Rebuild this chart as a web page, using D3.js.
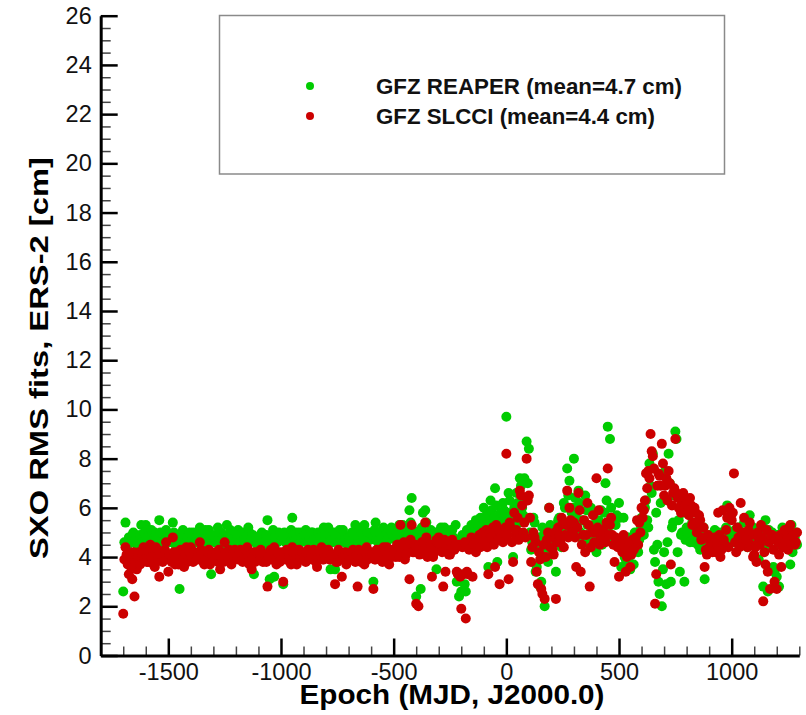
<!DOCTYPE html>
<html>
<head>
<meta charset="utf-8">
<script src="https://cdn.jsdelivr.net/npm/d3@7"></script>
<style>
  html, body { margin: 0; padding: 0; background: #fff; }
  svg { display: block; }
  text { font-family: "Liberation Sans", Arial, Helvetica, sans-serif; }
</style>
</head>
<body>
<svg id="chart" width="806" height="715"></svg>
<script>
// ---------------- DATA ----------------
// epochs [MJD - J2000.0]; first block, then an interleaved second block
const epochs = [
  -1700,-1690,-1680,-1670,-1660,-1650,-1640,-1630,-1620,-1610,
  -1600,-1590,-1580,-1570,-1560,-1550,-1540,-1530,-1520,-1510,
  -1500,-1490,-1480,-1470,-1460,-1450,-1440,-1430,-1420,-1410,
  -1400,-1390,-1380,-1370,-1360,-1350,-1340,-1330,-1320,-1310,
  -1300,-1290,-1280,-1270,-1260,-1250,-1240,-1230,-1220,-1210,
  -1200,-1190,-1180,-1170,-1160,-1150,-1140,-1130,-1120,-1110,
  -1100,-1090,-1080,-1070,-1060,-1050,-1040,-1030,-1020,-1010,
  -1000,-990,-980,-970,-960,-950,-940,-930,-920,-910,
  -900,-890,-880,-870,-860,-850,-840,-830,-820,-810,
  -800,-790,-780,-770,-760,-750,-740,-730,-720,-710,
  -700,-690,-680,-670,-660,-650,-640,-630,-620,-610,
  -600,-590,-580,-570,-560,-550,-540,-530,-520,-510,
  -500,-490,-480,-470,-460,-450,-440,-430,-420,-410,
  -400,-390,-380,-370,-360,-350,-340,-330,-320,-310,
  -300,-290,-280,-270,-260,-250,-240,-230,-220,-210,
  -200,-190,-180,-170,-160,-150,-140,-130,-120,-110,
  -100,-90,-80,-70,-60,-50,-40,-30,-20,-10,
  0,10,20,30,40,50,60,70,80,90,
  100,110,120,130,140,150,160,170,180,190,
  200,210,220,230,240,250,260,270,280,290,
  300,310,320,330,340,350,360,370,380,390,
  400,410,420,430,440,450,460,470,480,490,
  500,510,520,530,540,550,560,570,580,590,
  600,610,620,630,640,650,660,670,680,690,
  700,710,720,730,740,750,760,770,780,790,
  800,810,820,830,840,850,860,870,880,890,
  900,910,920,930,940,950,960,970,980,990,
  1000,1010,1020,1030,1040,1050,1060,1070,1080,1090,
  1100,1110,1120,1130,1140,1150,1160,1170,1180,1190,
  1200,1210,1220,1230,1240,1250,1260,1270,1280,1290,
  -1695,-1685,-1675,-1665,-1655,-1645,-1635,-1625,-1615,-1605,
  -1595,-1585,-1575,-1565,-1555,-1545,-1535,-1525,-1515,-1505,
  -1495,-1485,-1475,-1465,-1455,-1445,-1435,-1425,-1415,-1405,
  -1395,-1385,-1375,-1365,-1355,-1345,-1335,-1325,-1315,-1305,
  -1295,-1285,-1275,-1265,-1255,-1245,-1235,-1225,-1215,-1205,
  -1195,-1185,-1175,-1165,-1155,-1145,-1135,-1125,-1115,-1105,
  -1095,-1085,-1075,-1065,-1055,-1045,-1035,-1025,-1015,-1005,
  -995,-985,-975,-965,-955,-945,-935,-925,-915,-905,
  -895,-885,-875,-865,-855,-845,-835,-825,-815,-805,
  -795,-785,-775,-765,-755,-745,-735,-725,-715,-705,
  -695,-685,-675,-665,-655,-645,-635,-625,-615,-605,
  -595,-585,-575,-565,-555,-545,-535,-525,-515,-505,
  -495,-485,-475,-465,-455,-445,-435,-425,-415,-405,
  -395,-385,-375,-365,-355,-345,-335,-325,-315,-305,
  -295,-285,-275,-265,-255,-245,-235,-225,-215,-205,
  -195,-185,-175,-165,-155,-145,-135,-125,-115,-105,
  -95,-85,-75,-65,-55,-45,-35,-25,-15,-5,
  5,15,25,35,45,55,65,75,85,95,
  105,115,125,135,145,155,165,175,185,195,
  205,215,225,235,245,255,265,275,285,295,
  305,315,325,335,345,355,365,375,385,395,
  405,415,425,435,445,455,465,475,485,495,
  505,515,525,535,545,555,565,575,585,595,
  605,615,625,635,645,655,665,675,685,695,
  705,715,725,735,745,755,765,775,785,795,
  805,815,825,835,845,855,865,875,885,895,
  905,915,925,935,945,955,965,975,985,995,
  1005,1015,1025,1035,1045,1055,1065,1075,1085,1095,
  1105,1115,1125,1135,1145,1155,1165,1175,1185,1195,
  1205,1215,1225,1235,1245,1255,1265,1275,1285
];

// GFZ REAPER RMS [cm]
const reaper = [
  2.6,5.4,4.5,4.7,4.9,4.6,4.8,4.5,5.3,4.7,
  5.3,4.6,4.9,4.4,5.0,4.7,5.5,4.8,4.5,5.1,
  4.6,4.9,5.4,4.7,4.5,2.7,4.8,5.0,4.6,4.9,
  4.7,5.0,4.6,4.8,5.2,4.5,4.9,4.7,5.1,3.3,
  4.8,4.6,5.2,4.9,4.5,4.7,5.3,4.6,5.0,4.8,
  4.7,5.1,4.8,4.5,4.9,4.6,5.0,4.7,3.3,4.8,
  4.6,4.9,4.7,4.5,5.5,3.1,4.8,3.2,4.6,5.0,
  4.8,2.9,4.6,4.9,4.7,5.6,4.5,5.0,4.8,4.6,
  4.7,5.1,4.9,4.6,5.0,4.8,4.5,4.9,4.7,5.2,
  4.8,5.2,3.5,4.6,3.5,4.9,5.1,4.7,4.6,4.8,
  4.7,4.9,4.6,5.3,4.8,5.0,4.5,5.3,4.7,4.9,
  4.8,3.0,5.4,4.6,4.9,5.1,4.7,5.0,4.8,5.2,
  5.0,4.7,5.2,4.9,5.3,4.8,5.1,5.9,6.4,4.7,
  2.4,4.9,2.7,5.8,5.9,4.7,5.0,4.6,4.8,3.5,
  4.9,5.2,4.6,5.0,4.8,4.5,5.1,4.7,3.0,2.4,
  2.6,4.7,2.6,4.9,5.1,4.6,5.3,4.8,5.4,5.0,
  6.0,5.5,3.6,6.3,5.2,6.8,3.8,5.7,5.4,5.9,
  9.7,6.6,5.5,4.0,5.8,6.2,7.2,6.0,7.2,8.7,
  8.4,4.3,5.6,3.4,4.8,2.8,5.2,2.0,4.5,6.0,
  5.1,4.7,3.4,5.5,4.9,5.3,6.0,7.6,7.1,5.8,
  8.0,5.6,6.7,5.0,4.7,6.5,5.3,4.9,5.8,5.2,
  4.2,5.5,5.9,5.0,7.0,9.3,8.8,5.4,4.8,5.7,
  6.2,3.6,5.6,3.9,4.8,3.5,4.6,5.0,4.4,4.7,
  5.6,4.9,6.3,5.2,6.9,8.2,3.8,4.5,2.5,2.0,
  4.2,2.9,8.2,3.0,5.4,9.1,4.2,3.4,5.0,3.0,
  5.2,4.8,5.0,4.6,4.9,4.5,4.3,4.7,3.1,4.5,
  4.7,4.5,4.8,4.6,5.0,4.4,4.9,4.6,6.1,4.8,
  5.0,4.6,4.8,5.2,4.5,4.9,4.7,4.4,5.7,4.6,
  4.5,4.8,3.9,4.6,2.8,5.5,2.6,4.9,5.0,3.4,
  3.2,2.8,4.6,4.9,4.4,5.1,3.7,4.2,4.8,4.5,
  4.6,4.4,4.8,4.6,5.0,4.7,4.4,4.9,4.6,5.0,
  4.8,4.5,5.1,4.7,4.9,4.6,5.0,4.4,4.8,4.7,
  4.8,4.6,5.0,4.4,4.9,4.7,5.1,4.5,4.8,5.0,
  4.9,4.6,4.8,5.0,4.5,4.7,5.1,4.6,4.8,4.9,
  4.6,4.9,4.7,5.0,4.8,4.5,4.9,5.1,4.7,4.6,
  4.9,4.6,5.0,4.7,4.8,5.2,4.6,4.9,4.7,4.5,
  4.8,5.0,4.6,4.9,4.7,4.5,5.1,4.8,4.6,4.9,
  4.7,5.0,4.8,4.6,5.1,4.9,4.7,4.5,5.0,4.8,
  4.9,4.6,4.8,5.0,4.7,4.5,5.0,4.8,4.6,4.9,
  4.6,4.9,4.7,5.0,4.8,4.6,4.9,5.1,4.7,4.5,
  4.8,5.0,4.7,4.9,4.6,5.1,4.8,4.6,5.0,4.7,
  4.9,5.1,4.7,5.0,4.8,5.2,4.9,4.7,5.1,4.9,
  5.1,4.8,5.3,5.0,4.7,5.2,4.9,5.4,5.1,4.9,
  5.0,4.7,5.2,4.9,5.4,4.8,5.1,4.7,5.0,4.9,
  5.0,4.8,5.2,4.9,4.6,5.1,4.8,5.3,4.7,3.3,
  4.9,2.9,5.1,4.8,5.3,5.0,5.5,5.2,5.6,5.3,
  5.6,5.8,5.4,5.9,5.6,6.1,5.5,5.8,6.2,5.6,
  5.8,6.3,5.2,6.0,6.6,5.4,6.9,5.7,6.4,7.0,
  5.0,4.6,5.4,3.6,4.4,3.0,4.9,4.2,3.8,5.3,
  4.5,5.2,4.8,5.6,4.4,6.2,5.0,6.5,5.4,6.0,
  6.4,5.0,6.2,5.5,4.8,5.9,4.6,6.0,5.3,4.9,
  4.7,5.2,4.5,5.8,6.3,5.0,6.0,4.8,5.3,4.6,
  5.6,4.5,4.0,4.8,3.8,4.4,3.7,4.6,4.2,5.1,
  5.3,6.0,5.5,7.8,6.6,4.3,5.8,3.0,6.2,3.5,
  7.5,4.6,7.0,5.2,6.5,8.8,5.5,4.9,5.8,4.7,
  5.0,4.6,5.4,4.8,5.1,4.7,4.9,5.2,4.4,4.8,
  4.9,4.6,5.1,4.8,4.5,5.0,4.7,5.2,4.9,4.6,
  4.8,5.1,4.6,5.0,4.9,5.4,4.7,5.0,4.8,5.2,
  4.7,5.0,4.6,5.3,4.9,4.4,5.1,4.7,3.6,4.9,
  4.9,4.5,5.2,4.7,5.0,4.6,5.3,4.8,5.0
];

// GFZ SLCCI RMS [cm]
const slcci = [
  1.7,4.4,3.7,3.9,3.1,2.4,3.5,4.2,3.9,4.4,
  4.2,3.8,4.5,4.0,3.6,4.3,3.2,4.1,3.9,4.6,
  3.4,4.0,4.8,3.7,4.2,3.9,4.1,3.6,4.4,4.0,
  4.4,3.8,4.1,3.9,4.6,4.2,3.7,4.0,4.3,3.9,
  4.0,4.2,3.8,3.5,4.1,4.6,3.9,4.3,3.7,4.0,
  4.1,3.9,4.3,3.8,4.0,4.4,3.7,3.5,4.2,3.9,
  4.0,4.3,3.8,4.1,2.8,4.2,3.9,4.4,3.7,4.1,
  4.2,3.0,3.9,4.1,3.8,4.4,4.0,3.7,4.3,3.9,
  4.1,3.8,4.3,4.0,3.9,4.2,3.6,4.1,4.4,3.9,
  4.0,4.3,3.9,4.1,2.9,3.8,4.2,3.2,4.0,3.7,
  4.1,3.9,4.3,3.8,2.8,4.0,4.2,3.7,4.4,4.0,
  4.2,2.7,3.9,4.1,4.3,3.8,4.0,4.4,3.7,4.2,
  4.3,4.0,4.5,5.3,4.1,3.9,4.4,3.1,5.3,4.2,
  2.1,2.0,4.3,4.6,5.4,4.0,4.5,3.2,4.2,4.7,
  4.8,4.4,2.8,3.4,4.6,4.1,4.7,4.3,3.4,4.5,
  1.9,3.3,1.5,3.3,4.5,3.2,4.7,4.4,4.9,4.6,
  4.8,5.1,3.3,4.6,5.2,3.6,4.9,2.9,5.0,4.7,
  8.2,3.1,5.2,3.8,4.9,5.6,6.7,6.1,5.4,8.0,
  6.5,3.8,5.0,4.6,2.9,3.9,2.5,2.3,4.7,6.0,
  4.8,4.1,2.3,5.2,4.6,5.4,4.9,6.7,6.0,5.1,
  5.4,3.6,6.6,3.4,4.9,4.2,6.2,2.8,5.0,4.6,
  7.2,5.9,4.8,5.1,4.6,7.6,5.3,4.9,3.8,4.7,
  3.2,4.6,4.9,3.4,4.3,3.6,4.7,4.4,5.5,5.4,
  6.0,5.9,7.4,7.5,9.0,8.1,2.1,6.9,7.3,8.6,
  6.5,7.2,7.5,3.7,6.6,8.8,6.4,6.5,6.2,6.3,
  6.2,5.7,6.1,5.4,5.8,5.2,5.5,4.8,3.6,4.1,
  4.4,4.6,4.3,4.2,5.8,4.0,5.9,4.5,5.6,6.0,
  5.5,7.4,4.2,4.8,6.2,4.6,5.0,4.4,5.4,4.9,
  4.1,3.8,4.7,5.3,2.2,3.7,3.4,2.7,4.9,3.0,
  2.7,4.1,3.6,4.5,5.0,4.3,5.3,4.8,4.5,5.0,
  3.9,4.1,3.3,3.6,4.2,3.8,4.0,3.7,4.1,3.9,
  3.8,4.2,4.0,3.7,4.4,3.9,4.1,3.8,4.3,4.0,
  4.1,3.8,4.2,4.0,3.7,4.3,3.9,4.1,3.8,4.2,
  4.0,4.2,3.9,4.1,4.3,3.8,4.0,4.2,3.7,4.1,
  3.9,4.1,4.3,4.0,3.8,4.2,4.0,3.9,4.1,4.3,
  4.0,4.2,3.9,4.1,4.3,3.8,4.1,4.0,3.8,4.2,
  4.2,3.9,4.1,3.8,4.0,4.3,3.9,4.1,4.2,3.8,
  3.9,4.1,4.3,4.0,3.7,4.2,4.1,3.9,4.0,4.2,
  4.0,4.2,3.9,4.1,4.3,3.8,4.0,4.2,3.9,4.1,
  4.2,3.9,4.1,4.0,3.8,4.3,3.9,4.1,4.2,4.0,
  3.9,4.2,4.0,4.1,4.3,3.8,4.0,4.2,3.9,4.1,
  4.1,3.9,4.3,4.0,4.2,4.4,3.9,4.1,4.3,4.0,
  4.2,4.5,4.0,4.3,4.6,4.1,4.4,4.7,4.2,4.5,
  4.4,4.1,4.6,4.3,4.8,4.2,4.5,4.0,4.4,4.6,
  4.5,4.2,4.7,4.4,4.1,4.6,4.3,4.5,3.3,3.2,
  4.4,4.6,3.4,4.3,4.8,4.5,4.2,4.7,4.4,5.0,
  4.6,4.4,5.0,4.8,4.5,5.3,4.7,5.1,4.6,5.2,
  4.9,5.4,4.6,5.8,5.1,4.7,6.5,5.0,4.8,6.3,
  5.6,4.4,4.8,3.4,4.2,2.7,4.5,4.0,5.0,4.4,
  4.3,5.0,4.6,4.9,5.6,4.4,5.3,4.8,5.5,5.0,
  4.8,5.2,5.9,4.5,5.5,4.9,5.3,4.4,5.7,5.0,
  5.2,4.5,5.0,4.7,5.4,4.9,5.6,4.5,4.8,4.4,
  4.5,4.2,4.4,4.0,4.6,4.1,4.3,4.8,4.5,5.0,
  5.6,6.3,6.8,7.2,8.3,7.6,3.3,7.4,6.9,7.8,
  6.9,6.3,7.0,6.1,6.8,6.6,6.0,5.8,6.6,6.1,
  5.9,6.4,5.3,6.0,5.0,5.7,4.7,5.2,4.3,4.9,
  4.6,4.2,4.8,4.5,4.9,4.3,4.7,5.1,4.4,5.7,
  5.8,4.6,5.2,4.4,5.0,5.6,4.7,5.1,4.5,4.0,
  4.4,5.0,4.5,4.8,4.2,5.1,4.6,4.9,4.3,4.7,
  4.6,4.9,4.4,5.1,4.7,5.2,4.5,4.9,4.6
];

const seriesNames = ["GFZ REAPER (mean=4.7 cm)", "GFZ SLCCI (mean=4.4 cm)"];
const seriesColors = ["#00cc00", "#cc0000"];
const xMajorTicks = [-1500, -1000, -500, 0, 500, 1000];
const yMajorTicks = [0, 2, 4, 6, 8, 10, 12, 14, 16, 18, 20, 22, 24, 26];
const xTitle = "Epoch (MJD, J2000.0)";
const yTitle = "SXO RMS fits, ERS-2 [cm]";

// ---------------- CHART ----------------
const svg = d3.select("#chart");
const x = d3.scaleLinear().domain([-1800, 1300]).range([100.7, 799.3]);
const y = d3.scaleLinear().domain([0, 26]).range([655.5, 15.7]);

const xMinor = d3.range(-1800, 1301, 100).filter(v => !xMajorTicks.includes(v));
const yMinor = d3.range(0, 26.01, 0.5).filter(v => !yMajorTicks.includes(v));

// minor ticks
svg.append("g").attr("transform", `translate(0,${y(0)})`)
  .call(d3.axisBottom(x).tickValues(xMinor).tickSize(-9).tickSizeOuter(0).tickFormat(""))
  .call(g => g.select(".domain").remove())
  .call(g => g.selectAll("line").attr("stroke", "#444").attr("stroke-width", 1.5));
svg.append("g").attr("transform", `translate(${x(-1800)},0)`)
  .call(d3.axisLeft(y).tickValues(yMinor).tickSize(-10).tickSizeOuter(0).tickFormat(""))
  .call(g => g.select(".domain").remove())
  .call(g => g.selectAll("line").attr("stroke", "#444").attr("stroke-width", 1.5));

// major axes
const fmt = d => String(d);
const xAxis = svg.append("g").attr("transform", `translate(0,${y(0)})`)
  .call(d3.axisBottom(x).tickValues(xMajorTicks).tickFormat(fmt).tickSize(-17).tickSizeOuter(0).tickPadding(10));
const yAxis = svg.append("g").attr("transform", `translate(${x(-1800)},0)`)
  .call(d3.axisLeft(y).tickValues(yMajorTicks).tickFormat(fmt).tickSize(-17).tickSizeOuter(0).tickPadding(9));

[xAxis, yAxis].forEach(a => {
  a.select(".domain").attr("stroke", "#000").attr("stroke-width", 3);
  a.selectAll(".tick line").attr("stroke", "#000").attr("stroke-width", 2.5);
  a.selectAll(".tick text").attr("font-size", "23.5px").attr("fill", "#111")
    .attr("font-family", "'Liberation Sans', Arial, sans-serif");
});
xAxis.selectAll(".tick text").attr("dy", "0.71em").attr("y", 8);

// points (REAPER first, SLCCI drawn on top)
const data = epochs.map((e, i) => ({ e, r: reaper[i], s: slcci[i] }));
svg.append("g").selectAll("circle").data(data).join("circle")
  .attr("cx", d => x(d.e)).attr("cy", d => y(d.r)).attr("r", 5)
  .attr("fill", seriesColors[0]);
svg.append("g").selectAll("circle").data(data).join("circle")
  .attr("cx", d => x(d.e)).attr("cy", d => y(d.s)).attr("r", 5)
  .attr("fill", seriesColors[1]);

// axis titles
svg.append("text").attr("x", 452).attr("y", 704).attr("text-anchor", "middle")
  .attr("font-size", "27px").attr("font-weight", "bold")
  .attr("textLength", 305).attr("lengthAdjust", "spacingAndGlyphs")
  .text(xTitle);
svg.append("text").attr("transform", "translate(48,358) rotate(-90)")
  .attr("text-anchor", "middle")
  .attr("font-size", "26px").attr("font-weight", "bold")
  .attr("textLength", 402).attr("lengthAdjust", "spacingAndGlyphs")
  .text(yTitle);

// legend
const lg = svg.append("g");
lg.append("rect").attr("x", 219.5).attr("y", 15.5).attr("width", 505).attr("height", 158.5)
  .attr("fill", "#fff").attr("stroke", "#8a8a8a").attr("stroke-width", 1.5);
const legendY = [86, 116];
const legendW = [306, 279];
seriesNames.forEach((n, i) => {
  lg.append("circle").attr("cx", 310).attr("cy", legendY[i]).attr("r", 4).attr("fill", seriesColors[i]);
  lg.append("text").attr("x", 376).attr("y", legendY[i] + 8.3)
    .attr("font-size", "22px").attr("font-weight", "bold").attr("fill", "#111")
    .attr("textLength", legendW[i]).attr("lengthAdjust", "spacingAndGlyphs")
    .text(n);
});
</script>
</body>
</html>
